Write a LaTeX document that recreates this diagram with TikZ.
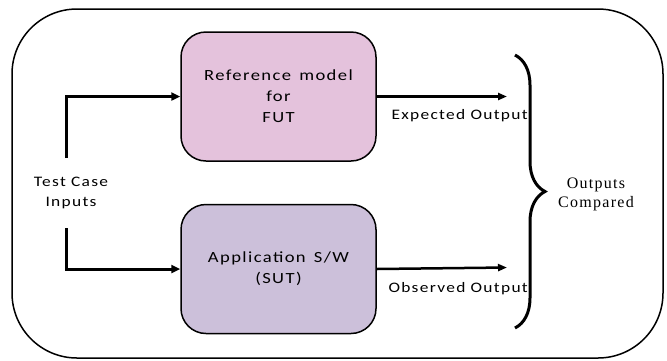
\documentclass[tikz,border=0pt]{standalone}
\usepackage{fontspec}
\usepackage{tikz}
\setmainfont{Carlito}[FakeStretch=1.2,LetterSpace=9]
\newfontfamily\cmpfont{Liberation Serif}[LetterSpace=8]
\definecolor{lightpink}{RGB}{228,194,220}
\definecolor{lightlilac}{RGB}{204,192,218}
\usetikzlibrary{arrows.meta}
\usetikzlibrary{decorations.pathreplacing}
\usetikzlibrary{positioning}

\begin{document}
\begin{tikzpicture}[x=1pt,y=-1pt,
        modelbox/.style={draw, line width=1.5pt, rounded corners=25pt, minimum width=195pt, minimum height=129pt, align=center, font=\fontsize{15.5}{21}\selectfont},
        flow/.style={line width=3pt, -{Triangle[length=9pt,width=8pt]}},
        outflow/.style={line width=2.5pt, -{Triangle[length=9pt,width=7pt]}},
        lbl/.style={font=\fontsize{14.5}{20}\selectfont}]
        \useasboundingbox (0,0) rectangle (667,360);
        \draw[line width=1.5pt, rounded corners=65pt] (12,9) rectangle (663,358);
        % the two models
        \node[modelbox, fill=lightpink] (refmodel) at (278.5,96.5) {Reference\ \,model\\for\\FUT};
        \node[modelbox, fill=lightlilac, below=42pt of refmodel] (appsw) {Application\ \,S/W\\(SUT)};
        % inputs
        \node[lbl, align=center] (tcinputs) at (71,193) {Test Case\\Inputs};
        \coordinate (intop) at (66,158);
        \coordinate (inbot) at (66,228);
        \draw[flow] (intop) |- (refmodel.west);
        \draw[flow] (inbot) |- (appsw.west);
        % outputs
        \coordinate (expend) at (507,96.5);
        \coordinate (obsend) at (507,267.5);
        \draw[outflow] (refmodel.east) -- (expend);
        \draw[outflow] (appsw.east) -- (obsend);
        \node[lbl, anchor=west] (expected) at (388,116) {Expected Output};
        \node[lbl, anchor=west] (observed) at (385,289) {Observed Output};
        % comparison
        \coordinate (bracetop) at (515,55);
        \coordinate (bracebot) at (515,328);
        \draw[line width=3pt, decorate, decoration={brace, amplitude=30pt}] (bracetop) -- (bracebot);
        \node[font=\cmpfont\fontsize{16}{19}\selectfont, align=center] (compared) at (596,194) {Outputs\\Compared};
\end{tikzpicture}
\end{document}
